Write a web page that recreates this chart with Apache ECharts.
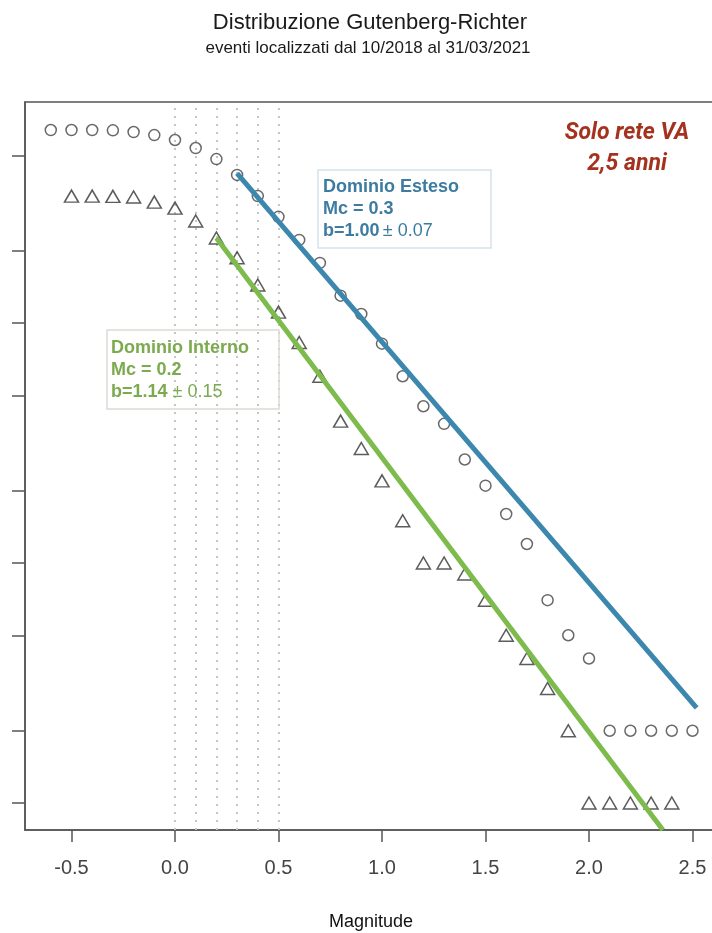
<!DOCTYPE html>
<html>
<head>
<meta charset="utf-8">
<script src="https://cdn.jsdelivr.net/npm/echarts@6/dist/echarts.min.js"></script>
<style>
html,body{margin:0;padding:0;background:#fff;}
#chart{width:712px;height:933px;}
</style>
</head>
<body>
<div id="chart"></div>
<script>
// ---- Data ----
const magEsteso = [-0.6,-0.5,-0.4,-0.3,-0.2,-0.1,0.0,0.1,0.2,0.3,0.4,0.5,0.6,0.7,0.8,0.9,1.0,1.1,1.2,1.3,1.4,1.5,1.6,1.7,1.8,1.9,2.0,2.1,2.2,2.3,2.4,2.5];
const countEsteso = [637,637,637,635,625,607,579,536,482,414,338,277,222,178,130,109,82,60,45,38,27,21,16,12,7,5,4,2,2,2,2,2];
const magInterno = [-0.5,-0.4,-0.3,-0.2,-0.1,0.0,0.1,0.2,0.3,0.4,0.5,0.6,0.7,0.8,0.9,1.0,1.1,1.2,1.3,1.4,1.5,1.6,1.7,1.8,1.9,2.0,2.1,2.2,2.3,2.4];
const countInterno = [338,338,337,335,319,301,266,226,187,144,111,83,60,39,30,22,15,10,10,9,7,5,4,3,2,1,1,1,1,1];
const fitEstesoM = [0.3, 2.52];
const fitEstesoN = [420, 2.49];
const fitInternoM = [0.2, 2.357];
const fitInternoN = [226, 0.772];
const mcLines = [0.0, 0.1, 0.2, 0.3, 0.4, 0.5];
const xTicks = [-0.5, 0.0, 0.5, 1.0, 1.5, 2.0, 2.5];
const xTickLabels = ['-0.5','0.0','0.5','1.0','1.5','2.0','2.5'];
const yTicks = [1, 2, 5, 10, 20, 50, 100, 200, 500];
const titleText = 'Distribuzione Gutenberg-Richter';
const subtitleText = 'eventi localizzati dal 10/2018 al 31/03/2021';
const xName = 'Magnitude';

const pair = (xs, ys) => xs.map((x, i) => [x, ys[i]]);

const chart = echarts.init(document.getElementById('chart'), null, {renderer: 'canvas'});
const FONT = '"Liberation Sans", Arial, Helvetica, sans-serif';
const BLUE = '#3c87ae';
const GREEN = '#7dbb4c';
const BLUE_T = '#3d7ba1';
const GREEN_T = '#7caa4f';

const option = {
  animation: false,
  backgroundColor: '#fff',
  grid: {left: 25, top: 102, width: 697, height: 728, show: true, borderColor: '#555', borderWidth: 1.5,
    backgroundColor: 'transparent', containLabel: false, outerBoundsMode: 'none'},
  xAxis: {
    type: 'value', min: -0.7246, max: 2.6425,
    splitLine: {show: false},
    axisLine: {show: true, onZero: false, lineStyle: {color: '#555', width: 1.5}},
    axisTick: {show: true, inside: false, length: 12, customValues: xTicks, lineStyle: {color: '#555', width: 1.5}},
    axisLabel: {show: true, customValues: xTicks, margin: 28, fontFamily: FONT, fontSize: 20, color: '#444',
      formatter: v => { const i = xTicks.findIndex(t => Math.abs(t - v) < 1e-9); return i >= 0 ? xTickLabels[i] : ''; }}
  },
  yAxis: {
    type: 'log', logBase: 10, min: 0.7718, max: 833.6,
    splitLine: {show: false},
    axisLine: {show: true, onZero: false, lineStyle: {color: '#555', width: 1.5}},
    axisTick: {show: true, inside: false, length: 13, customValues: yTicks, lineStyle: {color: '#555', width: 1.5}},
    axisLabel: {show: false}
  },
  series: [
    {
      name: 'Dominio Esteso', type: 'scatter', data: pair(magEsteso, countEsteso),
      symbol: 'circle', symbolSize: 11, z: 3,
      itemStyle: {color: 'transparent', borderColor: '#444', borderWidth: 1.5},
      markLine: {
        silent: true, symbol: ['none', 'none'], label: {show: false}, z: 1,
        lineStyle: {type: [2, 6], color: '#c4c4c4', width: 2},
        data: mcLines.map(v => ({xAxis: v}))
      }
    },
    {
      name: 'Dominio Interno', type: 'scatter', data: pair(magInterno, countInterno),
      symbol: 'triangle', symbolSize: [14, 12], z: 3,
      itemStyle: {color: 'transparent', borderColor: '#333', borderWidth: 1.5}
    },
    {
      name: 'Fit Esteso', type: 'line', data: pair(fitEstesoM, fitEstesoN),
      showSymbol: false, symbol: 'none', z: 5, clip: true,
      lineStyle: {color: BLUE, width: 5, cap: 'butt'}
    },
    {
      name: 'Fit Interno', type: 'line', data: pair(fitInternoM, fitInternoN),
      showSymbol: false, symbol: 'none', z: 5, clip: true,
      lineStyle: {color: GREEN, width: 5, cap: 'butt'}
    }
  ],
  graphic: [
    {type: 'text', x: 370, y: 23, z: 10,
      style: {text: titleText, font: '22px ' + FONT, fill: '#1a1a1a', align: 'center', verticalAlign: 'middle'}},
    {type: 'text', x: 368, y: 48, z: 10,
      style: {text: subtitleText, font: '17px ' + FONT, fill: '#1a1a1a', align: 'center', verticalAlign: 'middle'}},
    {type: 'text', x: 371, y: 922, z: 10,
      style: {text: xName, font: '18px ' + FONT, fill: '#111', align: 'center', verticalAlign: 'middle'}},
    // Dominio Esteso box
    {type: 'rect', z: 10, shape: {x: 318, y: 170, width: 173, height: 78},
      style: {fill: 'rgba(255,255,255,0.6)', stroke: '#d4e3eb', lineWidth: 1.5}},
    {type: 'text', x: 323, y: 176, z: 11,
      style: {
        text: '{b|Dominio Esteso}\n{b|Mc = 0.3}\n{b|b=1.00} {n|± 0.07}',
        rich: {
          b: {font: 'bold 18px ' + FONT, fill: BLUE_T, lineHeight: 22},
          n: {font: '18px ' + FONT, fill: BLUE_T, lineHeight: 22}
        }
      }},
    // Dominio Interno box
    {type: 'rect', z: 10, shape: {x: 107, y: 330, width: 172, height: 79},
      style: {fill: 'transparent', stroke: '#d9dbd4', lineWidth: 1.5}},
    {type: 'text', x: 111, y: 337, z: 11,
      style: {
        text: '{b|Dominio Interno}\n{b|Mc = 0.2}\n{b|b=1.14}{n| ± 0.15}',
        rich: {
          b: {font: 'bold 18px ' + FONT, fill: GREEN_T, lineHeight: 22},
          n: {font: '18px ' + FONT, fill: GREEN_T, lineHeight: 22}
        }
      }},
    // Solo rete VA
    {type: 'text', x: 627, y: 133, z: 11,
      style: {text: 'Solo rete VA', font: 'italic bold 23px Roboto, "Liberation Sans", sans-serif', fill: '#a5321f', align: 'center', verticalAlign: 'middle'}},
    {type: 'text', x: 627, y: 164, z: 11,
      style: {text: '2,5 anni', font: 'italic bold 23px Roboto, "Liberation Sans", sans-serif', fill: '#a5321f', align: 'center', verticalAlign: 'middle'}}
  ]
};
chart.setOption(option);
</script>
</body>
</html>
